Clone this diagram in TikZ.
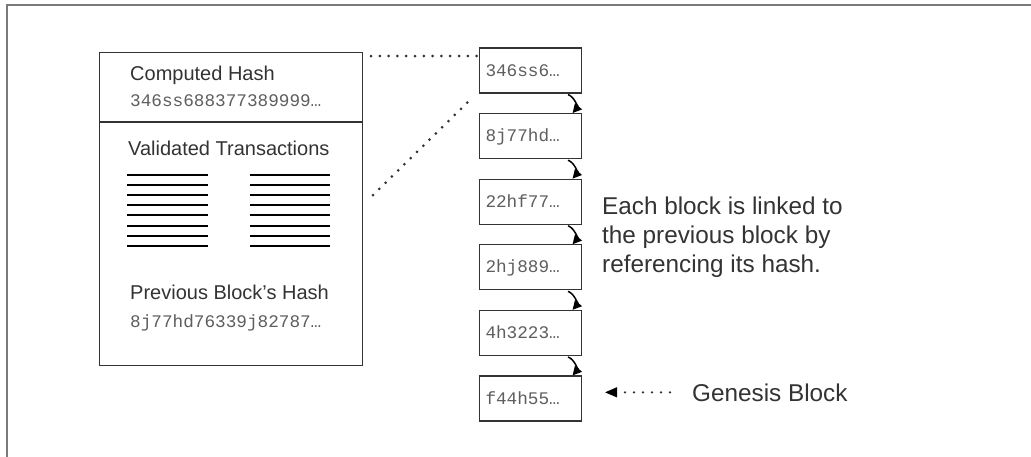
\documentclass[tikz,border=0pt]{standalone}
\usepackage{fontspec}
\setmainfont{Liberation Sans}
\setmonofont{Liberation Mono}
\usetikzlibrary{arrows.meta}
\definecolor{framec}{HTML}{7A7A7A}
\definecolor{ink}{HTML}{333333}
\definecolor{monoc}{HTML}{5E5E5E}
\begin{document}
\begin{tikzpicture}[x=1pt,y=-1pt,
  sanstext/.style={font=\fontsize{20pt}{24pt}\selectfont, text=ink, inner sep=0pt, anchor=base west},
  monotext/.style={font=\ttfamily\fontsize{17.7pt}{21pt}\selectfont, text=monoc, inner sep=0pt, anchor=base west},
  notetext/.style={font=\fontsize{24.3pt}{29pt}\selectfont, text=ink, inner sep=0pt, anchor=base west},
  chainbox/.style={draw=ink, line width=1.1pt, minimum width=102pt, minimum height=45pt,
    text width=90pt, inner xsep=6pt, inner ysep=0pt, align=left, text height=12pt, text depth=1pt,
    font=\ttfamily\fontsize{17.7pt}{21pt}\selectfont, text=monoc},
  txline/.style={line width=2pt, black},
  dotline/.style={ink, line width=3pt, line cap=round, dash pattern=on 0pt off 8.8pt},
  linkarrow/.style={black, line width=1.5pt, -{Triangle[length=9pt,width=9pt]}},
]
\useasboundingbox (0,0) rectangle (1031,456);
% outer frame (cut by the image edges)
\draw[framec, line width=1.6pt] (7,457) -- (7,5) -- (1032,5);

% the big block
\node[draw=ink, line width=1.2pt, minimum width=263pt, minimum height=313pt, anchor=north west, inner sep=0pt] (blk) at (99,52) {};
\draw[ink, line width=1.1pt] (blk.west |- 0,122) -- (blk.east |- 0,122);
\node[sanstext] (ch) at (130,80) {Computed Hash};
\node[monotext] (chv) at (130,106) {346ss688377389999…};
\node[sanstext] (vt) at (128,155) {Validated Transactions};
\foreach \k in {0,...,7} {
  \draw[txline] (127,{175+10.1*\k}) -- (208,{175+10.1*\k});
  \draw[txline] (250,{175+10.1*\k}) -- (330,{175+10.1*\k});
}
\node[sanstext] (pb) at (130,299) {Previous Block’s Hash};
\node[monotext] (pbv) at (130,327) {8j77hd76339j82787…};

% the chain
\foreach \t [count=\i from 0] in {346ss6…, 8j77hd…, 22hf77…, 2hj889…, 4h3223…, f44h55…} {
  \node[chainbox] (c\i) at (530.5, {70.5+65.6*\i}) {\t};
}
\foreach \i [evaluate=\i as \j using int(\i+1)] in {0,...,4} {
  \draw[linkarrow] ([xshift=-14pt,yshift=-1pt]c\i.south east) to[bend left=55] ([xshift=-9.5pt]c\j.north east);
}

% dotted zoom lines
\coordinate (d1s) at (371,56);
\coordinate (d1e) at (477,56);
\coordinate (d2s) at (373,195);
\coordinate (d2e) at (472,98);
\draw[dotline] (d1s) -- (d1e);
\draw[dotline] (d2s) -- (d2e);

% note
\node[notetext] (n1) at (602,214) {Each block is linked to};
\node[notetext] (n2) at (602,243) {the previous block by};
\node[notetext] (n3) at (602,272) {referencing its hash.};

% genesis
\node[notetext] (gen) at (692,401) {Genesis Block};
\draw[ink, line width=2.6pt, line cap=round, dash pattern=on 0pt off 9pt, shorten <=22pt, shorten >=37pt]
  (gen.west) -- (c5.east |- gen.west);
\draw[black, line width=1pt, shorten <=76pt, shorten >=23pt, -{Triangle[length=12pt,width=10pt]}]
  (gen.west) -- (c5.east |- gen.west);
\end{tikzpicture}
\end{document}
